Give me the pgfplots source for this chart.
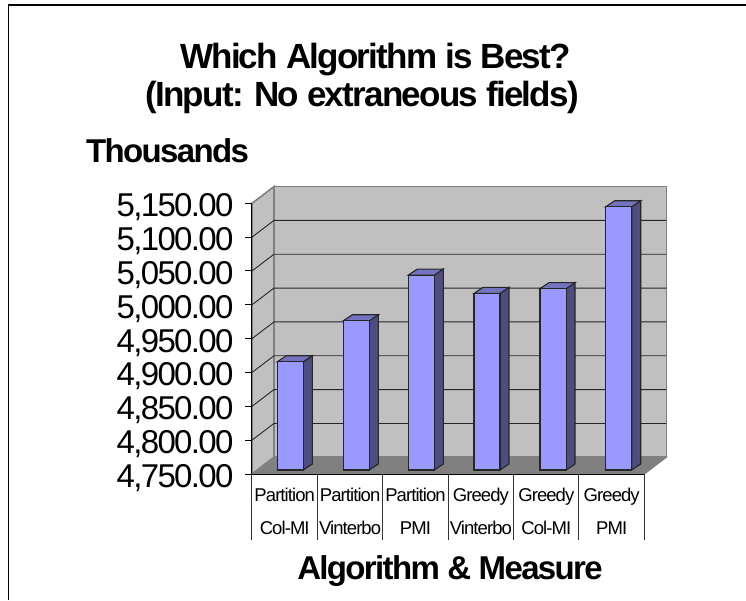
\documentclass[border=0pt]{standalone}
\usepackage{pgfplots}
\pgfplotsset{compat=1.18}
\usepackage{fontspec}
\setmainfont{Liberation Sans}
\newfontfamily\tightfont[LetterSpace=-5]{Liberation Sans}
\definecolor{wall}{HTML}{C0C0C0}
\definecolor{floorc}{HTML}{808080}
\definecolor{barfront}{HTML}{9999FF}
\definecolor{barside}{HTML}{4D4D80}
\definecolor{bartop}{HTML}{7373BF}
% #1 left edge of the front face, #2 value (the bars stand 5.9 units into the depth of the floor)
\newcommand\threeDbar[2]{%
  \pgfmathsetmacro\xa{#1}\pgfmathsetmacro\xb{#1+0.398}%
  \pgfmathsetmacro\xc{#1+0.1376}\pgfmathsetmacro\xd{#1+0.398+0.1376}%
  \pgfmathsetmacro\yf{#2+5.9}\pgfmathsetmacro\yt{#2+14.8}%
  \addplot[draw=black!85,line width=1.1pt,fill=barside] coordinates {(\xb,4755.9)(\xb,\yf)(\xd,\yt)(\xd,4764.8)} --cycle;
  \addplot[draw=black!85,line width=1.1pt,fill=bartop] coordinates {(\xa,\yf)(\xb,\yf)(\xd,\yt)(\xc,\yt)} --cycle;
  \addplot[draw=black!85,line width=1.1pt,fill=barfront] coordinates {(\xa,4755.9)(\xa,\yf)(\xb,\yf)(\xb,4755.9)} --cycle;
}
\newcommand\gridrow[2]{%
  \addplot[black!85,line width=0.9pt] coordinates {(0,#1)(0.336,#2)(6.336,#2)};
}
\newcommand\sep[1]{%
  \addplot[black!80,line width=1pt] coordinates {(#1,4750)(#1,4652.5)};
}
\begin{document}
\begin{tikzpicture}
\useasboundingbox (-252pt,-126pt) rectangle (494pt,474pt);
\fill[white] (-252pt,-126pt) rectangle (494pt,474pt);
\draw[black,line width=1.2pt] (-243.5pt,-126pt) -- (-243.5pt,469pt) -- (494pt,469pt);
\begin{axis}[
  at={(0pt,0pt)},anchor=south west,
  scale only axis,width=392.4pt,height=270.7pt,
  xmin=0,xmax=6,ymin=4750,ymax=5150,
  clip=false,axis on top=true,
  axis x line=bottom,axis y line=left,
  axis line style={black,line width=1pt,-},
  xtick={0.5,1.5,2.5,3.5,4.5,5.5},
  xticklabels={Partition\\[13pt]Col-MI,Partition\\[13pt]Vinterbo,Partition\\[13pt]PMI,Greedy\\[13pt]Vinterbo,Greedy\\[13pt]Col-MI,Greedy\\[13pt]PMI},
  x tick style={draw=none},
  x tick label style={font=\fontsize{18.5}{20}\tightfont,align=center,yshift=-4pt},
  ytick={4750,4800,4850,4900,4950,5000,5050,5100,5150},
  tick align=outside,
  y tick style={black,line width=1pt},
  major tick length=7pt,
  y tick label style={font=\fontsize{33}{33}\tightfont,xshift=-8pt,yshift=-4pt,
     /pgf/number format/.cd,fixed,fixed zerofill,precision=2,1000 sep={,},assume math mode=true},
  scaled y ticks=false,
]
% walls and floor
\addplot[draw=floorc,line width=1.6pt,fill=wall] coordinates {(0,4750)(0.336,4774.7)(0.336,5174.7)(0,5150)} --cycle;
\addplot[draw=floorc,line width=1.6pt,fill=wall] coordinates {(0.336,4774.7)(6.336,4774.7)(6.336,5174.7)(0.336,5174.7)} --cycle;
\gridrow{4800}{4824.7}
\gridrow{4850}{4874.7}
\gridrow{4900}{4924.7}
\gridrow{4950}{4974.7}
\gridrow{5000}{5024.7}
\gridrow{5050}{5074.7}
\gridrow{5100}{5124.7}
\addplot[draw=floorc,line width=1pt,fill=floorc] coordinates {(0,4750)(6,4750)(6.336,4774.7)(0.336,4774.7)} --cycle;
\sep{0}\sep{1}\sep{2}\sep{3}\sep{4}\sep{5}\sep{6}
% bars
\threeDbar{0.387}{4910}
\threeDbar{1.396}{4970.5}
\threeDbar{2.390}{5038}
\threeDbar{3.394}{5011}
\threeDbar{4.404}{5018}
\threeDbar{5.408}{5139}
\end{axis}
\node[font=\fontsize{35}{35}\bfseries\tightfont,anchor=base] at (123.5pt,405pt) {Which Algorithm is Best?};
\node[font=\fontsize{35}{35}\bfseries\tightfont,anchor=base] at (110pt,367pt) {(Input: No extraneous fields)};
\node[font=\fontsize{33}{33}\bfseries\tightfont,anchor=base] at (-84.5pt,311pt) {Thousands};
\node[font=\fontsize{33}{33}\bfseries\tightfont,anchor=base] at (198pt,-105pt) {Algorithm \& Measure};
\end{tikzpicture}
\end{document}
